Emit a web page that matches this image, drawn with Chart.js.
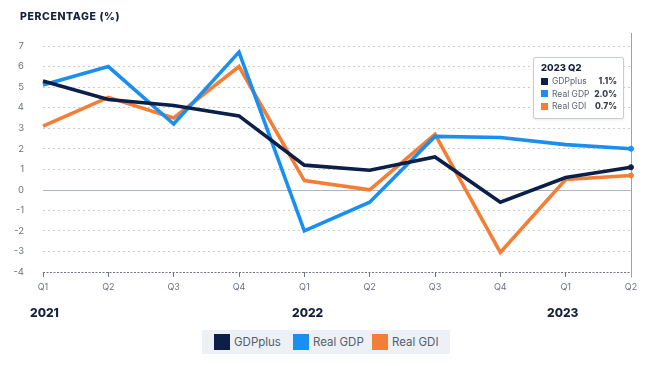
<!DOCTYPE html>
<html>
<head>
<meta charset="utf-8">
<script src="https://cdn.jsdelivr.net/npm/chart.js@4.4.0/dist/chart.umd.min.js"></script>
<style>
  html,body{margin:0;padding:0;background:#fff;width:652px;height:366px;overflow:hidden;font-family:Inter,"Noto Sans",sans-serif;}
  #wrap{position:relative;width:652px;height:366px;}
  canvas{position:absolute;left:0;top:0;}
  .title{position:absolute;left:20px;top:10px;font-size:10.5px;font-weight:800;letter-spacing:0.6px;color:#14213d;}
  .year{position:absolute;top:305px;font-size:12px;font-weight:800;color:#14213d;}
  .legend{position:absolute;left:202px;top:330px;width:248px;height:24px;background:#edf1f6;font-size:11.5px;color:#555e6b;}
  .legend .it{position:absolute;top:4px;height:16px;line-height:16px;}
  .legend .sw{position:absolute;top:0;left:0;width:16px;height:16px;}
  .legend .lb{position:absolute;left:20px;top:0;white-space:nowrap;}
  .tip{position:absolute;left:533px;top:57px;width:89px;height:60px;background:#fff;border:1px solid #c6ccd5;border-radius:2px;box-shadow:0 1px 2px rgba(0,0,0,0.08);font-size:8.5px;color:#5b6370;}
  .tip .tt{position:absolute;left:7px;top:4px;font-weight:800;font-size:9.5px;color:#14213d;}
  .tip .row{position:absolute;left:7px;width:76px;height:10px;line-height:10px;}
  .tip .sq{position:absolute;left:0;top:1.5px;width:7px;height:7px;}
  .tip .nm{position:absolute;left:11px;top:0;white-space:nowrap;}
  .tip .vl{position:absolute;right:0;top:0;font-weight:800;color:#3a414c;}
</style>
</head>
<body>
<div id="wrap">
  <canvas id="c" width="652" height="366"></canvas>
  <div class="title">PERCENTAGE (%)</div>
  <div class="year" style="left:30px">2021</div>
  <div class="year" style="left:292px">2022</div>
  <div class="year" style="left:547px">2023</div>
  <div class="legend" id="legend"></div>
  <div class="tip" id="tip"></div>
</div>
<script>
const quarters = ["Q1","Q2","Q3","Q4","Q1","Q2","Q3","Q4","Q1","Q2"];
const years = ["2021","2021","2021","2021","2022","2022","2022","2022","2023","2023"];
const gdpPlus = [5.3, 4.4, 4.1, 3.6, 1.2, 0.95, 1.6, -0.6, 0.6, 1.1];
const realGDP = [5.1, 6.0, 3.2, 6.7, -2.0, -0.6, 2.6, 2.55, 2.2, 2.0];
const realGDI = [3.1, 4.5, 3.5, 6.0, 0.45, 0.0, 2.7, -3.05, 0.5, 0.7];
const yTicks = [7,6,5,4,3,2,1,0,-1,-2,-3,-4];
const seriesNames = ["GDPplus","Real GDP","Real GDI"];
const seriesColors = ["#0c1f48","#1a8ff0","#f47e35"];
const tipTitle = "2023 Q2";
const tipValues = ["1.1%","2.0%","0.7%"];

// legend
const lg = document.getElementById('legend');
const legX = [12, 91, 170];
seriesNames.forEach((n,i)=>{
  const d=document.createElement('div');d.className='it';d.style.left=legX[i]+'px';
  d.innerHTML='<div class="sw" style="background:'+seriesColors[i]+'"></div><div class="lb">'+n+'</div>';
  lg.appendChild(d);
});
// tooltip
const tp = document.getElementById('tip');
tp.innerHTML='<div class="tt">'+tipTitle+'</div>';
seriesNames.forEach((n,i)=>{
  const r=document.createElement('div');r.className='row';r.style.top=(18+i*12.5)+'px';
  r.innerHTML='<div class="sq" style="background:'+seriesColors[i]+'"></div><div class="nm">'+n+'</div><div class="vl">'+tipValues[i]+'</div>';
  tp.appendChild(r);
});

const lastIdx = quarters.length-1;
function ds(label,data,color){
  return {label,data,borderColor:color,backgroundColor:color,borderWidth:3.6,tension:0,
    pointRadius:(ctx)=>ctx.dataIndex===lastIdx?2.5:0,
    pointBorderColor:color,pointBackgroundColor:color,pointBorderWidth:1,
    borderJoinStyle:'miter',borderCapStyle:'butt'};
}

const extras = {
  id:'extras',
  beforeDatasetsDraw(chart){
    const {ctx,chartArea,scales:{x,y}}=chart;
    ctx.save();
    const y0=Math.round(y.getPixelForValue(0))+0.5;
    ctx.strokeStyle='#a9b6c6';ctx.lineWidth=1;ctx.setLineDash([]);
    ctx.beginPath();ctx.moveTo(chartArea.left,y0);ctx.lineTo(chartArea.right,y0);ctx.stroke();
    const yb=Math.round(y.getPixelForValue(-4))+0.5;
    ctx.strokeStyle='#6e7682';ctx.lineWidth=1.2;ctx.setLineDash([2,1.5]);
    ctx.beginPath();ctx.moveTo(chartArea.left,yb);ctx.lineTo(chartArea.right,yb);ctx.stroke();
    const xv=Math.round(x.getPixelForValue(lastIdx))+0.5;
    ctx.setLineDash([]);ctx.strokeStyle='#9aa3ae';ctx.lineWidth=1;
    ctx.beginPath();ctx.moveTo(xv,33);ctx.lineTo(xv,yb+5);ctx.stroke();
    ctx.restore();
  }
};

new Chart(document.getElementById('c'),{
  type:'line',
  data:{labels:quarters,datasets:[ds(seriesNames[0],gdpPlus,seriesColors[0]),ds(seriesNames[1],realGDP,seriesColors[1]),ds(seriesNames[2],realGDI,seriesColors[2])]},
  options:{
    responsive:false,animation:false,devicePixelRatio:1,
    layout:{padding:{left:0,right:21,top:46,bottom:64}},
    plugins:{legend:{display:false},tooltip:{enabled:false}},
    scales:{
      x:{
        grid:{display:true,drawOnChartArea:false,drawTicks:true,tickLength:5,color:'#6e7682',lineWidth:1},
        border:{display:false},
        ticks:{color:'#6b7280',font:{family:'Inter',size:9},padding:5,maxRotation:0,autoSkip:false},
        afterFit(s){s.height=30;}
      },
      y:{
        min:-4,max:7,
        ticks:{stepSize:1,color:'#6b7280',font:{family:'Inter',size:9.5},padding:19},
        grid:{drawTicks:false,lineWidth:1,color:(c)=>(c.tick&&(c.tick.value===0||c.tick.value===-4))?'rgba(0,0,0,0)':'#c8ccd3'},
        border:{display:false,dash:[2,3]},
        afterFit(s){s.width=43;}
      }
    }
  },
  plugins:[extras]
});
</script>
</body>
</html>
